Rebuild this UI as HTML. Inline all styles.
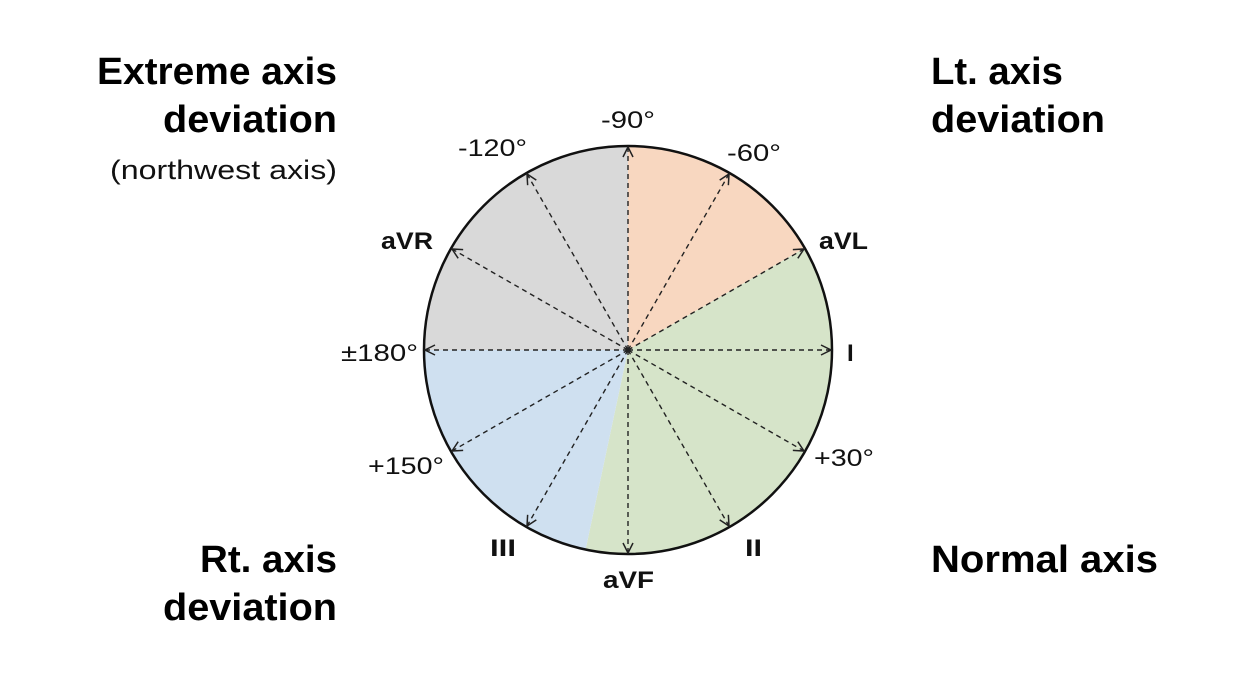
<!DOCTYPE html>
<html><head><meta charset="utf-8"><style>
body{margin:0;background:#fff;}
svg text{font-family:"Liberation Sans","Noto Sans CJK KR",sans-serif;}
</style></head><body>
<svg width="1233" height="688" viewBox="0 0 1233 688" xmlns="http://www.w3.org/2000/svg">
<defs>
<marker id="a" markerWidth="12" markerHeight="12" refX="11" refY="6" orient="auto" markerUnits="userSpaceOnUse">
<path d="M1,1 L11,6 L1,11" fill="none" stroke="#222" stroke-width="1.5"/>
</marker>
</defs>
<path d="M628,350 L628,146 A204,204 0 0 1 804.7,248 Z" fill="#f8d7c0"/>
<path d="M628,350 L804.7,248 A204,204 0 0 1 585.6,549.5 Z" fill="#d6e4c9"/>
<path d="M628,350 L585.6,549.5 A204,204 0 0 1 424,350 Z" fill="#cfe0f0"/>
<path d="M628,350 L424,350 A204,204 0 0 1 628,146 Z" fill="#d9d9d9"/>
<circle cx="628" cy="350" r="204" fill="none" stroke="#111" stroke-width="2.5"/>
<g stroke="#222" stroke-width="1.4" stroke-dasharray="5,4" marker-end="url(#a)">
<line x1="628" y1="350" x2="628" y2="147"/>
<line x1="628" y1="350" x2="729" y2="174"/>
<line x1="628" y1="350" x2="804" y2="249"/>
<line x1="628" y1="350" x2="831" y2="350"/>
<line x1="628" y1="350" x2="804" y2="451"/>
<line x1="628" y1="350" x2="729" y2="526"/>
<line x1="628" y1="350" x2="628" y2="553"/>
<line x1="628" y1="350" x2="527" y2="526"/>
<line x1="628" y1="350" x2="452" y2="451"/>
<line x1="628" y1="350" x2="425" y2="350"/>
<line x1="628" y1="350" x2="452" y2="249"/>
<line x1="628" y1="350" x2="527" y2="174"/>
</g>
<circle cx="628" cy="350" r="2.5" fill="#222"/>
<g font-size="24" fill="#111">
<text x="601" y="128" textLength="54" lengthAdjust="spacingAndGlyphs">-90°</text>
<text x="727" y="161" textLength="54" lengthAdjust="spacingAndGlyphs">-60°</text>
<text x="458" y="156" textLength="69" lengthAdjust="spacingAndGlyphs">-120°</text>
<text x="341" y="361" textLength="77" lengthAdjust="spacingAndGlyphs">±180°</text>
<text x="368" y="474" textLength="76" lengthAdjust="spacingAndGlyphs">+150°</text>
<text x="814" y="466" textLength="60" lengthAdjust="spacingAndGlyphs">+30°</text>
</g>
<g font-size="24" font-weight="bold" fill="#111">
<text x="819" y="249" textLength="49" lengthAdjust="spacingAndGlyphs">aVL</text>
<text x="381" y="249" textLength="52" lengthAdjust="spacingAndGlyphs">aVR</text>
<text x="847" y="361">I</text>
<text x="745" y="556" textLength="17" lengthAdjust="spacingAndGlyphs">II</text>
<text x="490" y="556" textLength="26" lengthAdjust="spacingAndGlyphs">III</text>
<text x="603" y="588" textLength="51" lengthAdjust="spacingAndGlyphs">aVF</text>
</g>
<g font-size="38" font-weight="bold" fill="#000">
<text x="97" y="84" textLength="240" lengthAdjust="spacingAndGlyphs">Extreme axis</text>
<text x="163" y="132" textLength="174" lengthAdjust="spacingAndGlyphs">deviation</text>
<text x="200" y="572" textLength="137" lengthAdjust="spacingAndGlyphs">Rt. axis</text>
<text x="163" y="620" textLength="174" lengthAdjust="spacingAndGlyphs">deviation</text>
<text x="931" y="84" textLength="132" lengthAdjust="spacingAndGlyphs">Lt. axis</text>
<text x="931" y="132" textLength="174" lengthAdjust="spacingAndGlyphs">deviation</text>
<text x="931" y="572" textLength="227" lengthAdjust="spacingAndGlyphs">Normal axis</text>
</g>
<text x="110" y="179" textLength="227" lengthAdjust="spacingAndGlyphs" font-size="27" fill="#111">(northwest axis)</text>
</svg>
</body></html>
